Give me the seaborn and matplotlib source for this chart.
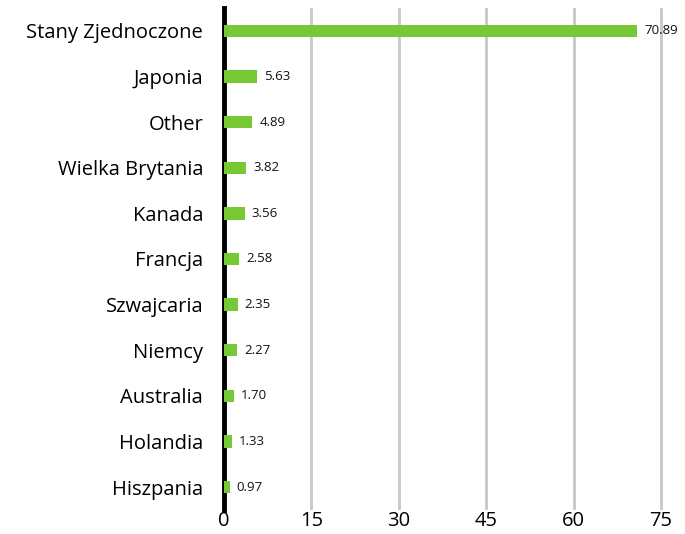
import matplotlib
matplotlib.use("Agg")
import matplotlib.pyplot as plt
import seaborn as sns
import pandas as pd

countries = ["Stany Zjednoczone", "Japonia", "Other", "Wielka Brytania", "Kanada",
             "Francja", "Szwajcaria", "Niemcy", "Australia", "Holandia", "Hiszpania"]
weights = [70.89, 5.63, 4.89, 3.82, 3.56, 2.58, 2.35, 2.27, 1.70, 1.33, 0.97]
xticks = [0, 15, 30, 45, 60, 75]

df = pd.DataFrame({"country": countries, "weight": weights})

sns.set_style("white")
plt.rcParams["font.family"] = ["Open Sans", "DejaVu Sans"]
plt.rcParams["text.color"] = "black"
plt.rcParams["xtick.color"] = "black"
plt.rcParams["ytick.color"] = "black"

fig = plt.figure(figsize=(6.85, 5.34), dpi=100)
ax = fig.add_axes([0.327, 0.045, 0.655, 0.94])

sns.barplot(data=df, x="weight", y="country", color="#76c934", width=0.27,
            saturation=1, linewidth=0, ax=ax, zorder=3)

for i, v in enumerate(weights):
    ax.text(v + 1.2, i, f"{v:.2f}", va="center", ha="left", fontsize=9.5, color="#111111")

ax.set_xlim(0, 77)
ax.set_ylim(10.5, -0.5)
ax.set_xticks(xticks)
ax.xaxis.grid(True, color="#c8c8c8", linewidth=2, zorder=0)
ax.set_axisbelow(True)
for s in ["top", "right", "bottom"]:
    ax.spines[s].set_visible(False)
ax.spines["left"].set_linewidth(3.5)
ax.spines["left"].set_color("black")
ax.tick_params(axis="y", length=0, labelsize=14.5, pad=15)
ax.tick_params(axis="x", length=0, labelsize=14.5, pad=1)
ax.set_xlabel("")
ax.set_ylabel("")

fig.savefig("out.png", dpi=100)
